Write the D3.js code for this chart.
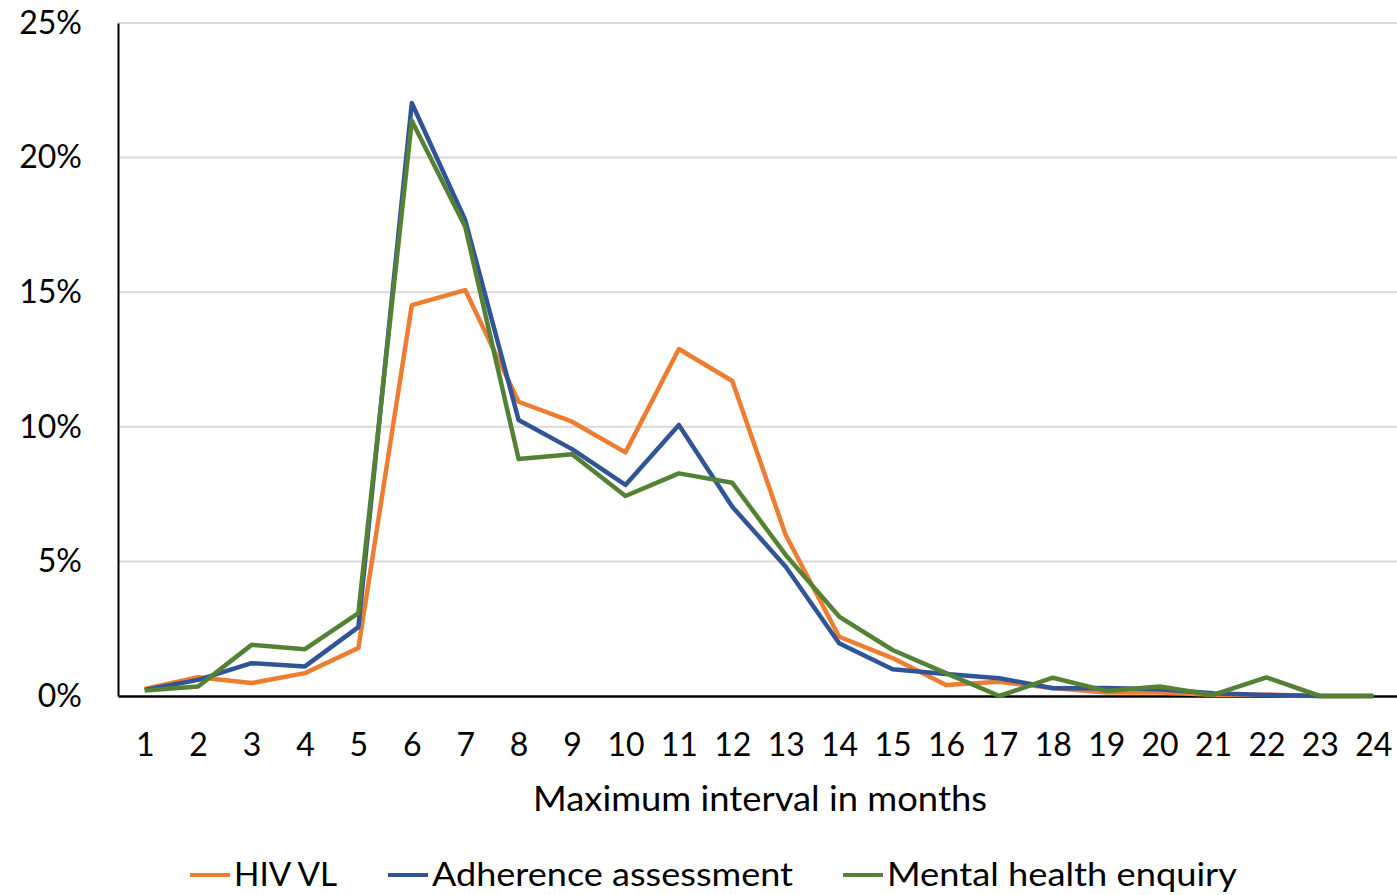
<!DOCTYPE html>
<html>
<head>
<meta charset="utf-8">
<script src="https://cdn.jsdelivr.net/npm/d3@7"></script>
<style>
  body { margin: 0; background: #fff; }
  svg { display: block; font-family: Lato, "Open Sans", sans-serif; }
</style>
</head>
<body>
<div id="chart"></div>
<script>
// Data (percent of patients)
const months = d3.range(1, 25);
const hivVL = [0.26, 0.7, 0.48, 0.85, 1.78, 14.52, 15.08, 10.93, 10.19, 9.05, 12.89, 11.7,
  5.98, 2.2, 1.41, 0.41, 0.53, 0.3, 0.13, 0.13, 0.05, 0.05, 0, 0];
const adherence = [0.22, 0.6, 1.22, 1.1, 2.56, 22.03, 17.68, 10.25, 9.17, 7.84, 10.07, 7.03,
  4.8, 1.96, 0.99, 0.82, 0.66, 0.29, 0.3, 0.25, 0.1, 0.04, 0, 0];
const mentalHealth = [0.2, 0.35, 1.9, 1.74, 3.08, 21.37, 17.43, 8.8, 8.98, 7.43, 8.27, 7.92,
  5.24, 2.95, 1.71, 0.85, 0, 0.68, 0.19, 0.35, 0.04, 0.69, 0, 0];
const yTicks = [0, 5, 10, 15, 20, 25];

const series = [
  {name: "HIV VL", values: hivVL, color: "#ED7D31"},
  {name: "Adherence assessment", values: adherence, color: "#2F5597"},
  {name: "Mental health enquiry", values: mentalHealth, color: "#548235"}
];

const w = 1397;
const h = 895;
const padL = 118, padR = 1400, padT = 23, padB = 696;

const svg = d3.select("#chart")
  .append("svg")
  .attr("width", w)
  .attr("height", h);

const x = d3.scalePoint()
  .domain(months)
  .range([padL, padR])
  .padding(0.5);
const y = d3.scaleLinear()
  .domain([0, 25])
  .range([padB, padT]);

// gridlines
svg.append("g")
  .selectAll("line")
  .data(yTicks.filter(d => d > 0))
  .join("line")
  .attr("x1", padL)
  .attr("x2", padR)
  .attr("y1", d => y(d))
  .attr("y2", d => y(d))
  .attr("stroke", "#d9d9d9")
  .attr("stroke-width", 2);

// y axis
const yAxis = svg.append("g")
  .attr("transform", `translate(${padL},0)`)
  .call(d3.axisLeft(y).tickValues(yTicks).tickFormat(d => d + "%").tickSize(0).tickPadding(36));
yAxis.select("path.domain").attr("stroke", "#000").attr("stroke-width", 2);
yAxis.selectAll("text").attr("font-size", 32).attr("fill", "#000").attr("font-family", "Lato, sans-serif");

// x axis
const xAxis = svg.append("g")
  .attr("transform", `translate(0,${padB})`)
  .call(d3.axisBottom(x).tickSize(0).tickPadding(37).tickSizeOuter(0));
xAxis.select("path.domain").attr("stroke", "#000").attr("stroke-width", 2.5);
xAxis.selectAll("text").attr("font-size", 32).attr("fill", "#000").attr("font-family", "Lato, sans-serif");

svg.append("text")
  .attr("x", 760)
  .attr("y", 811)
  .attr("text-anchor", "middle")
  .attr("font-size", 34)
  .attr("textLength", 454)
  .attr("lengthAdjust", "spacingAndGlyphs")
  .text("Maximum interval in months");

// lines
const line = d3.line()
  .x((d, i) => x(months[i]))
  .y(d => y(d));

svg.append("g")
  .selectAll("path")
  .data(series)
  .join("path")
  .attr("d", d => line(d.values))
  .attr("fill", "none")
  .attr("stroke", d => d.color)
  .attr("stroke-width", 4.5)
  .attr("stroke-linejoin", "round");

// legend
const legendX = [190, 388, 843];
const legendW = [103, 361, 350];
const legend = svg.append("g")
  .selectAll("g")
  .data(series)
  .join("g")
  .attr("transform", (d, i) => `translate(${legendX[i]},875)`);
legend.append("line")
  .attr("x1", 0).attr("x2", 40)
  .attr("stroke", d => d.color)
  .attr("stroke-width", 4);
legend.append("text")
  .attr("x", 44)
  .attr("y", 11)
  .attr("font-size", 33)
  .attr("textLength", (d, i) => legendW[i])
  .attr("lengthAdjust", "spacingAndGlyphs")
  .text(d => d.name);
</script>
</body>
</html>
